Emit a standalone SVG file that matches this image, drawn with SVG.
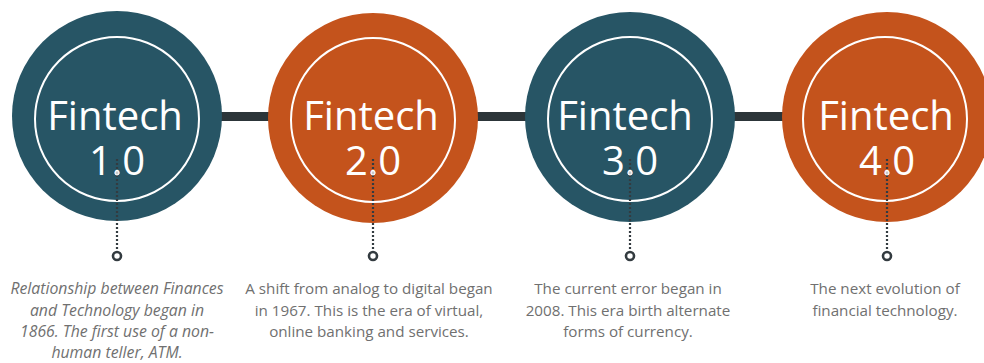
<svg xmlns="http://www.w3.org/2000/svg" width="984" height="363" viewBox="0 0 984 363">
<style>
.bg{fill:#ffffff}
.teal{fill:#275565}
.orange{fill:#c4531c}
.ring{fill:none;stroke:#ffffff;stroke-width:2}
.title{font-family:"Open Sans","Liberation Sans",sans-serif;font-size:40px;fill:#ffffff;text-anchor:middle}
.bar{fill:#2c3539}
.dots{stroke:#333b40;stroke-width:2.2;stroke-dasharray:2 2;fill:none}
.pin{fill:#c8c8c8;stroke:#ffffff;stroke-width:1}
.end{fill:#ffffff;stroke:#333b40;stroke-width:2.6}
.desc{font-family:"Open Sans","Liberation Sans",sans-serif;font-size:15.2px;fill:#707070;text-anchor:middle}
.it{font-style:italic;font-size:15.8px}
</style>
<rect class="bg" x="0" y="0" width="984" height="363"/>
<g id="connectors">
<rect class="bar" x="218" y="112" width="54" height="9"/>
<rect class="bar" x="475" y="112" width="54" height="9"/>
<rect class="bar" x="731" y="112" width="55" height="9"/>
</g>
<g id="node1">
<circle class="teal" cx="117" cy="116" r="105"/>
<circle class="ring" cx="117" cy="119" r="82"/>
<text class="title" x="115" y="130">Fintech</text>
<text class="title" x="117" y="175">1.0</text>
<line class="dots" x1="117" y1="159" x2="117" y2="250"/>
<circle class="pin" cx="117" cy="173" r="2"/>
<circle class="end" cx="117" cy="256" r="4"/>
<text class="desc it" x="117" y="294">Relationship between Finances</text>
<text class="desc it" x="117" y="316">and Technology began in</text>
<text class="desc it" x="117" y="337">1866. The first use of a non-</text>
<text class="desc it" x="117" y="358">human teller, ATM.</text>
</g>
<g id="node2">
<circle class="orange" cx="373" cy="118" r="105"/>
<circle class="ring" cx="373" cy="120" r="82"/>
<text class="title" x="371" y="130">Fintech</text>
<text class="title" x="373" y="175">2.0</text>
<line class="dots" x1="373" y1="159" x2="373" y2="250"/>
<circle class="pin" cx="373" cy="173" r="2"/>
<circle class="end" cx="373" cy="256" r="4"/>
<text class="desc" x="369" y="294">A shift from analog to digital began</text>
<text class="desc" x="369" y="316">in 1967. This is the era of virtual,</text>
<text class="desc" x="369" y="337">online banking and services.</text>
</g>
<g id="node3">
<circle class="teal" cx="630" cy="117" r="105"/>
<circle class="ring" cx="630" cy="119" r="82"/>
<text class="title" x="625" y="130">Fintech</text>
<text class="title" x="630" y="175">3.0</text>
<line class="dots" x1="630" y1="159" x2="630" y2="250"/>
<circle class="pin" cx="630" cy="173" r="2"/>
<circle class="end" cx="630" cy="256" r="4"/>
<text class="desc" x="628" y="294">The current error began in</text>
<text class="desc" x="628" y="316">2008. This era birth alternate</text>
<text class="desc" x="628" y="337">forms of currency.</text>
</g>
<g id="node4">
<circle class="orange" cx="887" cy="117" r="105"/>
<circle class="ring" cx="885" cy="119" r="82"/>
<text class="title" x="886" y="130">Fintech</text>
<text class="title" x="887" y="175">4.0</text>
<line class="dots" x1="887" y1="159" x2="887" y2="250"/>
<circle class="pin" cx="887" cy="173" r="2"/>
<circle class="end" cx="887" cy="256" r="4"/>
<text class="desc" x="885" y="294">The next evolution of</text>
<text class="desc" x="885" y="316">financial technology.</text>
</g>
</svg>
